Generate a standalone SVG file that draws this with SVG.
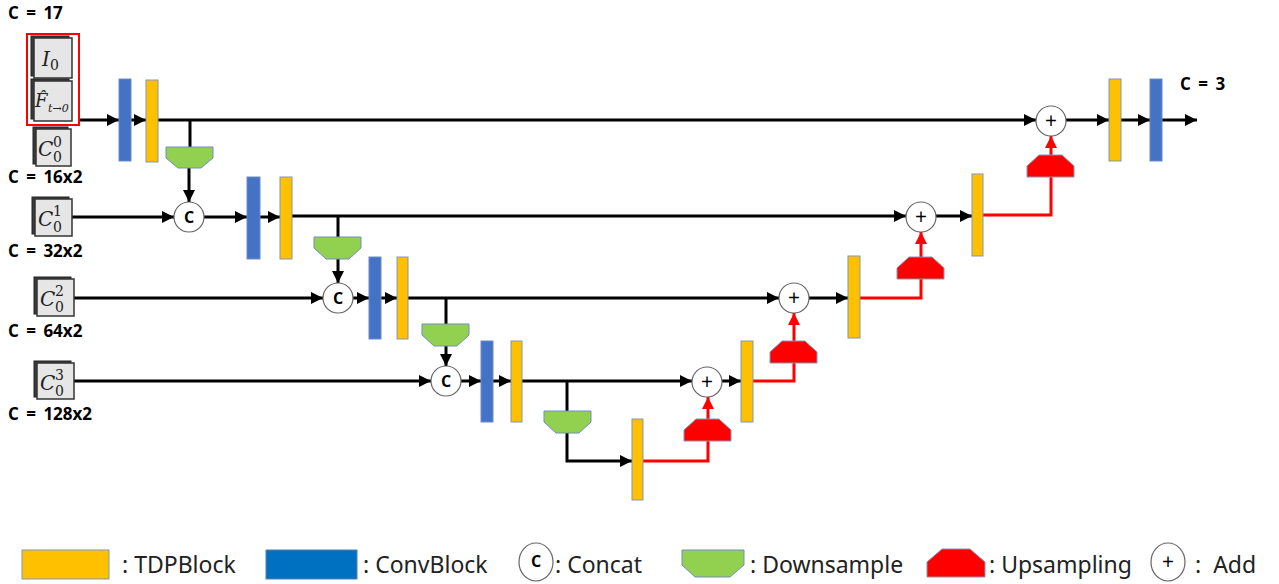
<svg xmlns="http://www.w3.org/2000/svg" width="1279" height="584" viewBox="0 0 1279 584">
<defs>
<style>
.bg{fill:#fff}
.tdp{fill:#FFC000;stroke:#8497B0;stroke-width:1}
.conv{fill:#4472C4;stroke:#6A8AC8;stroke-width:1}
.down{fill:#92D050;stroke:#6F8FC0;stroke-width:1}
.up{fill:#FF0000;stroke:#8497B0;stroke-width:1}
.op{fill:#fff;stroke:#666;stroke-width:1.2}
.opt{font-family:"Open Sans","Noto Sans",sans-serif;font-weight:bold;font-size:16px;fill:#000;text-anchor:middle}
.plus{font-family:"Open Sans","Noto Sans",sans-serif;font-size:21px;fill:#000;text-anchor:middle}
.blk{stroke:#000;stroke-width:3;fill:none}
.red{stroke:#FF0000;stroke-width:3;fill:none}
.back{fill:#3a3a3a;stroke:#222;stroke-width:1}
.front{fill:#e6e6e6;stroke:#333;stroke-width:1.5}
.m{font-family:"DejaVu Serif","Liberation Serif",serif;font-style:italic;fill:#222}
.ms{font-family:"DejaVu Serif","Liberation Serif",serif;fill:#222}
.lab{font-family:"Open Sans","Noto Sans",sans-serif;font-weight:bold;font-size:17px;word-spacing:3px;fill:#000}
.leg{font-family:"Noto Sans","Open Sans",sans-serif;font-size:23px;fill:#222}
</style>
<marker id="ab" markerUnits="userSpaceOnUse" markerWidth="14" markerHeight="12" refX="12" refY="6" orient="auto"><path d="M0,0 L12,6 L0,12 Z" fill="#000"/></marker>
<marker id="ar" markerUnits="userSpaceOnUse" markerWidth="14" markerHeight="12" refX="12" refY="6" orient="auto"><path d="M0,0 L12,6 L0,12 Z" fill="#FF0000"/></marker>
</defs>
<rect class="bg" x="0" y="0" width="1279" height="584"/>

<g id="connectors">
<line class="blk" x1="80" y1="120" x2="119" y2="120" marker-end="url(#ab)"/>
<line class="blk" x1="131" y1="120" x2="146" y2="120" marker-end="url(#ab)"/>
<line class="blk" x1="158" y1="120" x2="1036" y2="120" marker-end="url(#ab)"/>
<line class="blk" x1="190" y1="120" x2="190" y2="147"/>
<line class="blk" x1="189" y1="168" x2="189" y2="202" marker-end="url(#ab)"/>
<line class="blk" x1="1066" y1="120" x2="1109" y2="120" marker-end="url(#ab)"/>
<line class="blk" x1="1121" y1="120" x2="1150" y2="120" marker-end="url(#ab)"/>
<line class="blk" x1="1162" y1="120" x2="1197" y2="120" marker-end="url(#ab)"/>
<line class="blk" x1="72" y1="217" x2="174" y2="217" marker-end="url(#ab)"/>
<line class="blk" x1="204" y1="217" x2="247" y2="217" marker-end="url(#ab)"/>
<line class="blk" x1="260" y1="217" x2="280" y2="217" marker-end="url(#ab)"/>
<line class="blk" x1="292" y1="216" x2="906" y2="216" marker-end="url(#ab)"/>
<line class="blk" x1="338" y1="216" x2="338" y2="237"/>
<line class="blk" x1="338" y1="259" x2="338" y2="283" marker-end="url(#ab)"/>
<line class="blk" x1="936" y1="216" x2="972" y2="216" marker-end="url(#ab)"/>
<line class="blk" x1="74" y1="298" x2="323" y2="298" marker-end="url(#ab)"/>
<line class="blk" x1="353" y1="298" x2="369" y2="298" marker-end="url(#ab)"/>
<line class="blk" x1="381" y1="298" x2="397" y2="298" marker-end="url(#ab)"/>
<line class="blk" x1="408" y1="298" x2="779" y2="298" marker-end="url(#ab)"/>
<line class="blk" x1="446" y1="298" x2="446" y2="324"/>
<line class="blk" x1="446" y1="346" x2="446" y2="366" marker-end="url(#ab)"/>
<line class="blk" x1="809" y1="298" x2="848" y2="298" marker-end="url(#ab)"/>
<line class="blk" x1="74" y1="381" x2="431" y2="381" marker-end="url(#ab)"/>
<line class="blk" x1="461" y1="381" x2="481" y2="381" marker-end="url(#ab)"/>
<line class="blk" x1="493" y1="381" x2="511" y2="381" marker-end="url(#ab)"/>
<line class="blk" x1="522" y1="381" x2="692" y2="381" marker-end="url(#ab)"/>
<polyline class="blk" points="567,381 567,411"/>
<polyline class="blk" points="567,433 567,461 632,461" marker-end="url(#ab)"/>
<line class="blk" x1="722" y1="381" x2="741" y2="381" marker-end="url(#ab)"/>
<polyline class="red" points="643,461 708,461 708,441"/>
<line class="red" x1="708" y1="419" x2="708" y2="397" marker-end="url(#ar)"/>
<polyline class="red" points="753,381 794,381 794,363"/>
<line class="red" x1="794" y1="341" x2="794" y2="313" marker-end="url(#ar)"/>
<polyline class="red" points="860,298 921,298 921,279"/>
<line class="red" x1="921" y1="257" x2="921" y2="232" marker-end="url(#ar)"/>
<polyline class="red" points="983,215 1051,215 1051,177"/>
<line class="red" x1="1051" y1="155" x2="1051" y2="136" marker-end="url(#ar)"/>
</g>

<g id="input-stack">
<rect x="27" y="34" width="52" height="91" fill="none" stroke="#FF0000" stroke-width="2"/>
<rect class="back" x="31" y="36" width="38" height="40"/>
<rect class="front" x="34" y="38" width="38" height="40"/>
<text class="m" x="42" y="66" font-size="20">I</text>
<text class="ms" x="50" y="70" font-size="14">0</text>
<rect class="back" x="31" y="79" width="38" height="40"/>
<rect class="front" x="34" y="81" width="38" height="40"/>
<text class="m" x="35" y="107" font-size="18">F̂</text>
<text class="m" x="48" y="112" font-size="11">t→0</text>
</g>

<g id="c00">
<rect class="back" x="33" y="127" width="35" height="37"/>
<rect class="front" x="36" y="129" width="35" height="37"/>
<text class="m" x="38" y="156" font-size="20">C</text>
<text class="ms" x="53" y="147" font-size="14">0</text>
<text class="ms" x="53" y="162" font-size="14">0</text>
</g>
<g id="c01">
<rect class="back" x="32" y="197" width="37" height="37"/>
<rect class="front" x="35" y="199" width="37" height="37"/>
<text class="m" x="38" y="226" font-size="20">C</text>
<text class="ms" x="53" y="216" font-size="14">1</text>
<text class="ms" x="53" y="232" font-size="14">0</text>
</g>
<g id="c02">
<rect class="back" x="34" y="277" width="37" height="37"/>
<rect class="front" x="37" y="279" width="37" height="37"/>
<text class="m" x="40" y="306" font-size="20">C</text>
<text class="ms" x="55" y="296" font-size="14">2</text>
<text class="ms" x="55" y="312" font-size="14">0</text>
</g>
<g id="c03">
<rect class="back" x="34" y="361" width="37" height="36"/>
<rect class="front" x="37" y="363" width="37" height="36"/>
<text class="m" x="40" y="390" font-size="20">C</text>
<text class="ms" x="55" y="380" font-size="14">3</text>
<text class="ms" x="55" y="396" font-size="14">0</text>
</g>

<g id="labels">
<text class="lab" x="8" y="19">C = 17</text>
<text class="lab" x="8" y="183">C = 16x2</text>
<text class="lab" x="8" y="257">C = 32x2</text>
<text class="lab" x="8" y="337">C = 64x2</text>
<text class="lab" x="8" y="420">C = 128x2</text>
<text class="lab" x="1180" y="90">C = 3</text>
</g>

<g id="conv1"><rect class="conv" x="119" y="79" width="12" height="82"/></g>
<g id="tdp1"><rect class="tdp" x="146" y="80" width="12" height="82"/></g>
<g id="down1"><polygon class="down" points="166,147 213,147 213,158 201,168 178,168 166,158"/></g>
<g id="concat1"><circle class="op" cx="189" cy="217" r="15"/><text class="opt" x="189" y="223">C</text></g>
<g id="conv2"><rect class="conv" x="247" y="177" width="13" height="82"/></g>
<g id="tdp2"><rect class="tdp" x="280" y="177" width="12" height="82"/></g>
<g id="down2"><polygon class="down" points="314,237 361,237 361,248 349,259 326,259 314,248"/></g>
<g id="concat2"><circle class="op" cx="338" cy="298" r="15"/><text class="opt" x="338" y="304">C</text></g>
<g id="conv3"><rect class="conv" x="369" y="257" width="12" height="82"/></g>
<g id="tdp3"><rect class="tdp" x="397" y="257" width="11" height="82"/></g>
<g id="down3"><polygon class="down" points="422,324 469,324 469,335 457,346 434,346 422,335"/></g>
<g id="concat3"><circle class="op" cx="446" cy="381" r="15"/><text class="opt" x="446" y="387">C</text></g>
<g id="conv4"><rect class="conv" x="481" y="341" width="12" height="81"/></g>
<g id="tdp4"><rect class="tdp" x="511" y="341" width="11" height="81"/></g>
<g id="down4"><polygon class="down" points="544,411 591,411 591,422 579,433 556,433 544,422"/></g>
<g id="tdp5"><rect class="tdp" x="632" y="419" width="11" height="81"/></g>
<g id="up1"><polygon class="up" points="696,419 719,419 731,430 731,441 684,441 684,430"/></g>
<g id="add1"><circle class="op" cx="707" cy="382" r="15"/><text class="plus" x="707" y="389">+</text></g>
<g id="tdp6"><rect class="tdp" x="741" y="341" width="12" height="81"/></g>
<g id="up2"><polygon class="up" points="782,341 805,341 817,352 817,363 770,363 770,352"/></g>
<g id="add2"><circle class="op" cx="794" cy="298" r="15"/><text class="plus" x="794" y="305">+</text></g>
<g id="tdp7"><rect class="tdp" x="848" y="256" width="12" height="82"/></g>
<g id="up3"><polygon class="up" points="909,257 932,257 944,268 944,279 897,279 897,268"/></g>
<g id="add3"><circle class="op" cx="921" cy="217" r="15"/><text class="plus" x="921" y="224">+</text></g>
<g id="tdp8"><rect class="tdp" x="972" y="174" width="11" height="82"/></g>
<g id="up4"><polygon class="up" points="1039,155 1062,155 1074,166 1074,177 1027,177 1027,166"/></g>
<g id="add4"><circle class="op" cx="1051" cy="121" r="15"/><text class="plus" x="1051" y="128">+</text></g>
<g id="tdp9"><rect class="tdp" x="1109" y="79" width="12" height="82"/></g>
<g id="conv9"><rect class="conv" x="1150" y="79" width="12" height="82"/></g>

<g id="legend">
<rect class="tdp" x="22" y="550" width="87" height="29"/>
<text class="leg" x="122" y="573">: TDPBlock</text>
<rect x="266" y="550" width="91" height="29" fill="#0070C0" stroke="#5B7FB0" stroke-width="1"/>
<text class="leg" x="363" y="573">: ConvBlock</text>
<ellipse class="op" cx="536" cy="562" rx="17" ry="19"/>
<text class="opt" x="536" y="567" font-size="14">C</text>
<text class="leg" x="555" y="573">: Concat</text>
<polygon class="down" points="682,550 744,550 744,565 730,577 695,577 682,565"/>
<text class="leg" x="750" y="573">: Downsample</text>
<polygon class="up" points="942,549 970,549 985,562 985,577 927,577 927,562"/>
<text class="leg" x="989" y="573">: Upsampling</text>
<ellipse class="op" cx="1168" cy="562" rx="17" ry="19"/>
<text class="plus" x="1168" y="569">+</text>
<text class="leg" x="1195" y="573" word-spacing="6">: Add</text>
</g>
</svg>
